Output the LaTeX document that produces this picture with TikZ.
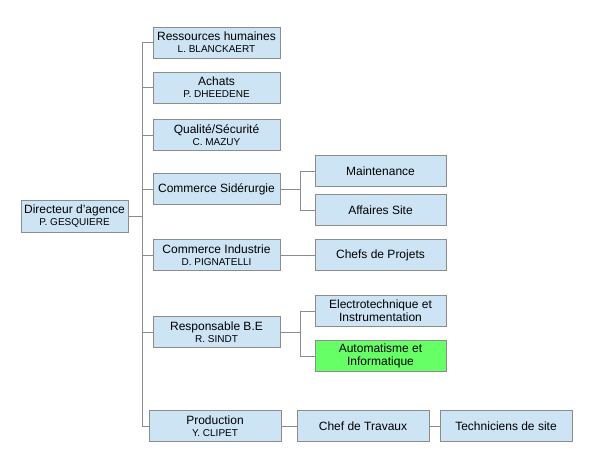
\documentclass[tikz,border=0pt]{standalone}
\usepackage{fontspec}
\setmainfont{Liberation Sans}
\definecolor{boxblue}{RGB}{205,228,245}
\definecolor{boxgreen}{RGB}{102,255,102}
\definecolor{linegray}{RGB}{140,140,140}
\newcommand{\person}[1]{\\[-1pt]{\fontsize{10}{11}\selectfont #1}}
\tikzset{
  box/.style={draw=linegray, fill=boxblue, line width=0.9pt, minimum width=127pt,
    minimum height=31pt, inner sep=1pt, align=center,
    font=\fontsize{12}{13}\selectfont},
  link/.style={draw=linegray, line width=0.9pt}
}
\begin{document}
\begin{tikzpicture}[x=1pt, y=-1pt]
        \useasboundingbox (0, 0) rectangle (599, 451);
        % nodes
        \node[box, minimum width=107pt, minimum height=32pt] (dir) at (74.5, 216) {Directeur d'agence\person{P. GESQUIERE}};
        \node[box] (rh) at (216.5, 42.5) {Ressources humaines\person{L. BLANCKAERT}};
        \node[box] (achats) at (216.5, 87.5) {Achats\person{P. DHEEDENE}};
        \node[box] (qual) at (216.5, 135) {Qualité/Sécurité\person{C. MAZUY}};
        \node[box] (cs) at (216.5, 189) {Commerce Sidérurgie};
        \node[box] (ci) at (216.5, 255) {Commerce Industrie\person{D. PIGNATELLI}};
        \node[box] (be) at (216.5, 332) {Responsable B.E\person{R. SINDT}};
        \node[box, minimum width=132pt] (prod) at (215, 426) {Production\person{Y. CLIPET}};
        \node[box, minimum width=131pt] (maint) at (380.5, 171) {Maintenance};
        \node[box, minimum width=131pt] (aff) at (380.5, 210) {Affaires Site};
        \node[box, minimum width=131pt] (cdp) at (380.5, 255) {Chefs de Projets};
        \node[box, minimum width=131pt] (elec) at (380.5, 311) {Electrotechnique et\\Instrumentation};
        \node[box, minimum width=131pt, fill=boxgreen] (auto) at (380.5, 356) {Automatisme et\\Informatique};
        \node[box, minimum width=132pt] (cdt) at (363, 426) {Chef de Travaux};
        \node[box, minimum width=132pt] (tech) at (506, 426) {Techniciens de site};
        % lines
        \draw[link] (dir.east) -- ++(14, 0) coordinate (trunk);
        \foreach \n in {rh, achats, qual, cs, ci, be, prod}
          \draw[link] (\n.west) -| (trunk);
        \draw[link] (cs.east) -- ++(20, 0) coordinate (csfork);
        \draw[link] (maint.west) -| (csfork);
        \draw[link] (aff.west) -| (csfork);
        \draw[link] (ci) -- (cdp);
        \draw[link] (be.east) -- ++(20, 0) coordinate (befork);
        \draw[link] (elec.west) -| (befork);
        \draw[link] (auto.west) -| (befork);
        \draw[link] (prod) -- (cdt);
        \draw[link] (cdt) -- (tech);
      \end{tikzpicture}
\end{document}
